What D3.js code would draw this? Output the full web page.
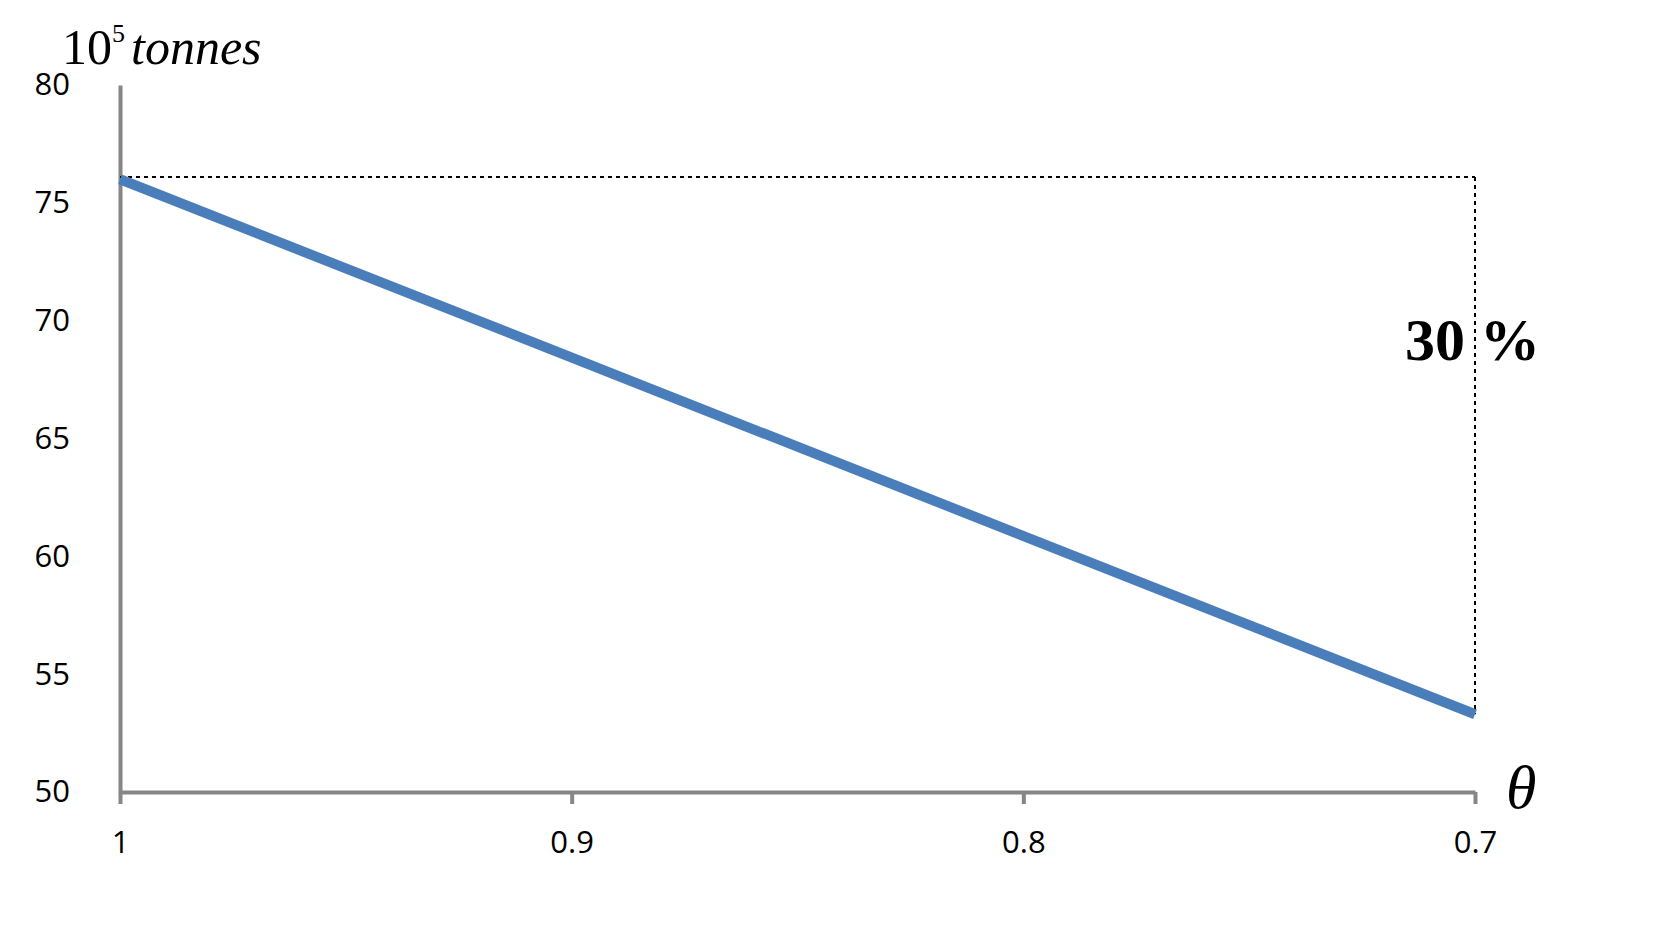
<!DOCTYPE html>
<html><head><meta charset="utf-8">
<script src="https://cdn.jsdelivr.net/npm/d3@7"></script>
<style>body{margin:0;background:#fff}</style>
</head><body>
<svg id="c" width="1653" height="944"></svg>
<script>
const thetaValues = [1, 0.7];
const tonnes = [76.0, 53.3];
const xTicks = [1, 0.9, 0.8, 0.7];
const xTickLabels = ["1", "0.9", "0.8", "0.7"];
const yTicks = [50, 55, 60, 65, 70, 75, 80];
const refLevel = 76.1;

const svg = d3.select("#c");
const x = d3.scaleLinear().domain([1, 0.7]).range([120, 1475]);
const y = d3.scaleLinear().domain([50, 80]).range([792, 85]);
const axisColor = "#868686";
const font = "'Open Sans', 'Liberation Sans', sans-serif";

const xa = svg.append("g").attr("transform", "translate(0,792)")
  .call(d3.axisBottom(x).tickValues(xTicks).tickFormat((d,i)=>xTickLabels[i]).tickSize(12).tickSizeOuter(0));
xa.select(".domain").attr("stroke", axisColor).attr("stroke-width", 4);
xa.selectAll(".tick line").attr("stroke", axisColor).attr("stroke-width", 4);
xa.selectAll(".tick text").attr("font-family", font).attr("font-size", 31).attr("fill", "#000").attr("y", 50).attr("dy", "0.35em");

const ya = svg.append("g").attr("transform", "translate(120,0)")
  .call(d3.axisLeft(y).tickValues(yTicks).tickSize(0).tickSizeOuter(0));
ya.select(".domain").attr("stroke", axisColor).attr("stroke-width", 4);
ya.selectAll(".tick text").attr("font-family", font).attr("font-size", 31).attr("fill", "#000").attr("text-anchor", "end").attr("x", -50);

svg.append("line").attr("x1", x(1)).attr("x2", x(0.7)).attr("y1", y(refLevel)).attr("y2", y(refLevel))
  .attr("stroke", "#000").attr("stroke-width", 2).attr("stroke-dasharray", "4,4");
svg.append("line").attr("x1", x(0.7)).attr("x2", x(0.7)).attr("y1", y(refLevel)).attr("y2", y(tonnes[1]))
  .attr("stroke", "#000").attr("stroke-width", 2).attr("stroke-dasharray", "4,4");

svg.append("path").datum(thetaValues.map((t,i)=>[t,tonnes[i]]))
  .attr("d", d3.line().x(d=>x(d[0])).y(d=>y(d[1])))
  .attr("fill", "none").attr("stroke", "#4a7ebb").attr("stroke-width", 10);

const t = svg.append("text").attr("x", 62).attr("y", 64).attr("font-family", "'Liberation Serif', serif").attr("font-size", 50);
t.append("tspan").text("10");
t.append("tspan").attr("font-size", 26).attr("dy", -22).text("5");
t.append("tspan").attr("dy", 22).attr("font-style", "italic").attr("dx", 6).text("tonnes");

svg.append("text").attr("x", 1506).attr("y", 808).attr("font-family", "'Liberation Serif', serif")
  .attr("font-style", "italic").attr("font-size", 62).text("θ");

svg.append("text").attr("x", 1405).attr("y", 360).attr("font-family", "'Liberation Serif', serif")
  .attr("font-weight", "bold").attr("font-size", 60).text("30 %");
</script>
</body></html>
